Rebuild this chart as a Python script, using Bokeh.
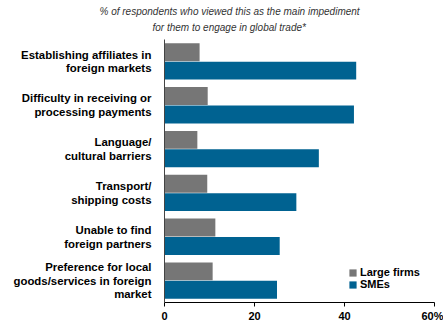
from bokeh.plotting import figure
from bokeh.models import Range1d, FixedTicker, Title, Legend, LegendItem, ColumnDataSource
from bokeh.embed import file_html
from bokeh.resources import INLINE

categories = [
    "Establishing affiliates in\nforeign markets",
    "Difficulty in receiving or\nprocessing payments",
    "Language/\ncultural barriers",
    "Transport/\nshipping costs",
    "Unable to find\nforeign partners",
    "Preference for local\ngoods/services in foreign\nmarket",
]
large_firms = [7.8, 9.6, 7.3, 9.5, 11.3, 10.7]
smes = [42.6, 42.1, 34.3, 29.3, 25.6, 25.0]
series_names = ["Large firms", "SMEs"]
x_ticks = [0, 20, 40, 60]
x_tick_labels = ["0", "20", "40", "60%"]
title_lines = ["% of respondents who viewed this as the main impediment",
               "for them to engage in global trade*"]

GRAY = "#767676"
BLUE = "#006291"
FONT = "Liberation Sans"

idx = list(range(len(categories)))
src_l = ColumnDataSource(dict(y=[i - 0.21 for i in idx], v=large_firms))
src_s = ColumnDataSource(dict(y=[i + 0.21 for i in idx], v=smes))

p = figure(width=443, height=324, output_backend="svg", toolbar_location=None,
           x_range=Range1d(0, 60), y_range=Range1d(len(categories) - 0.5, -0.5),
           min_border_left=164, min_border_right=9, min_border_top=39, min_border_bottom=20)
p.outline_line_color = None
p.xgrid.visible = False
p.ygrid.visible = False

r_l = p.hbar(y="y", left=0, right="v", height=0.41, source=src_l, fill_color=GRAY, line_color=None)
r_s = p.hbar(y="y", left=0, right="v", height=0.41, source=src_s, fill_color=BLUE, line_color=None)

# x axis
xa = p.xaxis[0]
xa.ticker = FixedTicker(ticks=x_ticks)
xa.major_label_overrides = {t: l for t, l in zip(x_ticks, x_tick_labels)}
xa.minor_tick_line_color = None
xa.major_tick_in = 0
xa.major_tick_out = 4
xa.axis_line_color = "black"
xa.major_tick_line_color = "black"
xa.major_label_text_font = FONT
xa.major_label_text_font_style = "bold"
xa.major_label_text_font_size = "11px"
xa.major_label_text_color = "black"
xa.major_label_standoff = 3

# y axis
ya = p.yaxis[0]
ya.ticker = FixedTicker(ticks=idx)
ya.major_label_overrides = {i: c for i, c in zip(idx, categories)}
ya.minor_tick_line_color = None
ya.major_tick_line_color = None
ya.axis_line_color = "#444444"
ya.major_label_text_font = FONT
ya.major_label_text_font_style = "bold"
ya.major_label_text_font_size = "11.4px"
ya.major_label_text_color = "black"
ya.major_label_text_line_height = 1.15
ya.major_label_standoff = 7

# title (two lines; the one nearest the frame is added first)
title_style = dict(align="left", text_font=FONT, text_font_style="italic",
                   text_font_size="10px", text_color="#333333", text_line_height=1.0)
p.add_layout(Title(text=title_lines[1], offset=-12, standoff=10, vertical_align="top",
                   **title_style), "above")
p.add_layout(Title(text=title_lines[0], offset=-65, standoff=0, **title_style), "above")

legend = Legend(items=[LegendItem(label=series_names[0], renderers=[r_l]),
                       LegendItem(label=series_names[1], renderers=[r_s])],
                location=(184, 12), orientation="vertical",
                glyph_width=9, glyph_height=9, label_height=9, label_width=10,
                spacing=0, padding=0, margin=0, label_standoff=3,
                border_line_color=None, background_fill_alpha=0,
                label_text_font=FONT, label_text_font_style="bold",
                label_text_font_size="11px", label_text_color="black")
p.add_layout(legend)

open("out.html", "w").write(file_html(p, INLINE))
